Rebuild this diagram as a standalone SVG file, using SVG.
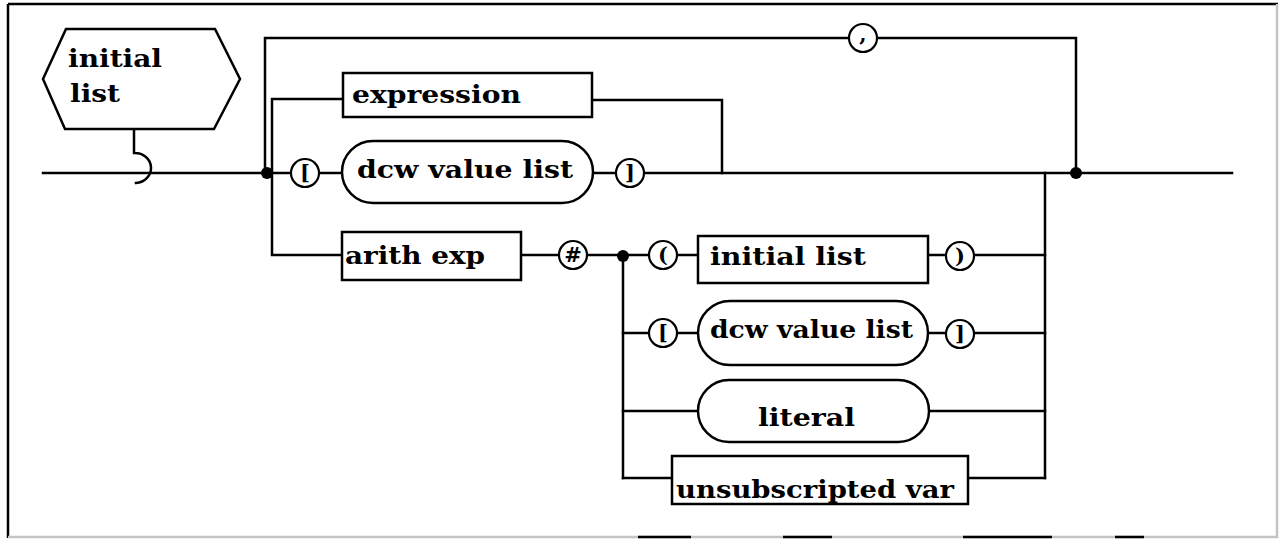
<svg xmlns="http://www.w3.org/2000/svg" width="1279" height="539" viewBox="0 0 1279 539">
  <style>
    .ln { fill: none; stroke: #000; stroke-width: 2.5; stroke-linecap: square; }
    .box { fill: #fff; stroke: #000; stroke-width: 2.5; }
    .term { fill: #fff; stroke: #000; stroke-width: 2.2; }
    .dot { fill: #000; }
    .lbl { font-family: "DejaVu Serif", "Liberation Serif", serif; font-weight: bold; font-size: 24px; fill: #000; }
    .sym { font-family: "DejaVu Serif", "Liberation Serif", serif; font-weight: bold; font-size: 21px; fill: #000; text-anchor: middle; }
    .frame { fill: none; stroke-width: 2.5; }
  </style>

  <rect width="1279" height="539" fill="#fff"/>

  <!-- page frame -->
  <g id="frame">
    <path class="frame" stroke="#000" d="M8,4 H1278 M8,4 V538"/>
    <path class="frame" stroke="#c4c4c4" stroke-width="2" d="M1277,4 V538 M8,537 H1278"/>
    <path class="frame" stroke="#000" stroke-width="2" d="M638,537 H691 M783,537 H832 M963,537 H1052 M1115,537 H1144"/>
  </g>

  <!-- connectors -->
  <g id="connectors">
    <!-- entry line and hook from the title -->
    <path class="ln" d="M43,173 H267"/>
    <path class="ln" d="M134,129 V153 A16,15 0 0 1 136,183"/>
    <!-- repeat loop through the comma -->
    <path class="ln" d="M1076,173 V38 H265 V173"/>
    <!-- main row and exit -->
    <path class="ln" d="M267,173 H1232"/>
    <!-- expression / arith exp branch -->
    <path class="ln" d="M342,99 H272 V255 H342"/>
    <path class="ln" d="M592,100 H722 V173"/>
    <!-- after the # symbol -->
    <path class="ln" d="M520,255 H1045"/>
    <path class="ln" d="M623,255 V478"/>
    <path class="ln" d="M623,333 H1045"/>
    <path class="ln" d="M623,411 H1045"/>
    <path class="ln" d="M623,478 H1045"/>
    <path class="ln" d="M1045,173 V478"/>
  </g>

  <!-- junction dots -->
  <g id="junctions">
    <circle class="dot" cx="267" cy="173" r="6"/>
    <circle class="dot" cx="1076" cy="173" r="6"/>
    <circle class="dot" cx="623" cy="256" r="6"/>
  </g>

  <g id="title">
    <polygon class="box" points="43,79 66,29 215,29 240,79 214,129 65,129"/>
    <text class="lbl" x="68" y="67" textLength="94" lengthAdjust="spacingAndGlyphs">initial</text>
    <text class="lbl" x="70" y="102" textLength="50" lengthAdjust="spacingAndGlyphs">list</text>
  </g>

  <g id="comma">
    <circle class="term" cx="863" cy="38" r="14"/>
    <text class="sym" x="863" y="41">,</text>
  </g>

  <g id="expression">
    <rect class="box" x="343" y="73" width="249" height="44"/>
    <text class="lbl" x="352" y="103" textLength="169" lengthAdjust="spacingAndGlyphs">expression</text>
  </g>

  <g id="lbracket-1">
    <circle class="term" cx="305" cy="173" r="14"/>
    <text class="sym" x="305" y="180">[</text>
  </g>

  <g id="dcw-value-list-1">
    <rect class="box" x="342" y="141" width="251" height="62" rx="31"/>
    <text class="lbl" x="357" y="178" textLength="216" lengthAdjust="spacingAndGlyphs">dcw value list</text>
  </g>

  <g id="rbracket-1">
    <circle class="term" cx="630" cy="173" r="14"/>
    <text class="sym" x="630" y="180">]</text>
  </g>

  <g id="arith-exp">
    <rect class="box" x="342" y="232" width="179" height="48"/>
    <text class="lbl" x="345" y="264" textLength="140" lengthAdjust="spacingAndGlyphs">arith exp</text>
  </g>

  <g id="hash">
    <circle class="term" cx="573" cy="255" r="14"/>
    <text class="sym" x="573" y="262">#</text>
  </g>

  <g id="lparen">
    <circle class="term" cx="663" cy="255" r="14"/>
    <text class="sym" x="663" y="262">(</text>
  </g>

  <g id="initial-list">
    <rect class="box" x="698" y="236" width="230" height="47"/>
    <text class="lbl" x="710" y="265" textLength="156" lengthAdjust="spacingAndGlyphs">initial list</text>
  </g>

  <g id="rparen">
    <circle class="term" cx="960" cy="256" r="14"/>
    <text class="sym" x="960" y="263">)</text>
  </g>

  <g id="lbracket-2">
    <circle class="term" cx="663" cy="333" r="14"/>
    <text class="sym" x="663" y="340">[</text>
  </g>

  <g id="dcw-value-list-2">
    <rect class="box" x="698" y="301" width="230" height="64" rx="32"/>
    <text class="lbl" x="710" y="338" textLength="203" lengthAdjust="spacingAndGlyphs">dcw value list</text>
  </g>

  <g id="rbracket-2">
    <circle class="term" cx="960" cy="334" r="14"/>
    <text class="sym" x="960" y="341">]</text>
  </g>

  <g id="literal">
    <rect class="box" x="698" y="380" width="231" height="62" rx="31"/>
    <text class="lbl" x="758" y="426" textLength="97" lengthAdjust="spacingAndGlyphs">literal</text>
  </g>

  <g id="unsubscripted-var">
    <rect class="box" x="672" y="456" width="296" height="48"/>
    <text class="lbl" x="676" y="498" textLength="278" lengthAdjust="spacingAndGlyphs">unsubscripted var</text>
  </g>
</svg>
